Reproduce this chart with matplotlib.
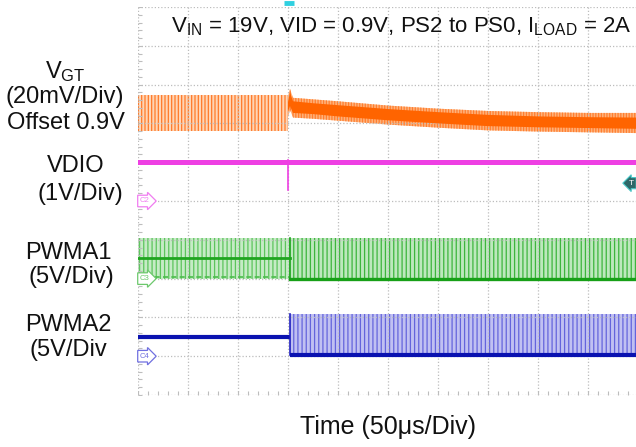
import matplotlib
matplotlib.use("Agg")
import matplotlib.pyplot as plt

plt.rcParams['font.family'] = ['Liberation Sans', 'DejaVu Sans']
plt.rcParams['mathtext.fontset'] = 'custom'
plt.rcParams['mathtext.rm'] = 'Liberation Sans'
plt.rcParams['mathtext.it'] = 'Liberation Sans:italic'
plt.rcParams['mathtext.bf'] = 'Liberation Sans:bold'
plt.rcParams['hatch.linewidth'] = 0.9

# ---------------- data (time in divisions of 50us, level in screen divisions) ----
x_divs = 10
y_divs = 10
t_step = 3.03

# V_GT (orange) envelopes
vgt_pre_t = [0.0, 3.0]
vgt_pre_hi = [7.72, 7.72]
vgt_pre_lo = [6.80, 6.80]
vgt_post_t = [3.00, 3.04, 3.10, 3.5, 4.0, 5.0, 6.0, 7.0, 8.0, 9.0, 10.0]
vgt_post_hi = [7.70, 7.89, 7.66, 7.62, 7.57, 7.46, 7.38, 7.32, 7.29, 7.27, 7.27]
vgt_post_lo = [7.15, 7.35, 7.15, 7.12, 7.07, 6.97, 6.89, 6.82, 6.79, 6.77, 6.75]
vgt_core_hi = [7.55, 7.80, 7.57, 7.52, 7.47, 7.37, 7.29, 7.22, 7.18, 7.16, 7.15]
vgt_core_lo = [7.30, 7.45, 7.27, 7.24, 7.18, 7.08, 7.00, 6.93, 6.90, 6.88, 6.86]

# VDIO (magenta)
vdio_t = [0.0, 10.0]
vdio_hi = [6.05, 6.05]
vdio_lo = [5.94, 5.94]
vdio_glitch_t = 3.0
vdio_glitch_lo = 5.28
vdio_gnd = 5.0

# PWMA1 (green)
pwma1_gnd = 3.0
pwma1_top = 4.05
pwma1_pre_mid = 3.53

# PWMA2 (blue)
pwma2_gnd = 1.0
pwma2_base = 1.03
pwma2_top = 2.09
pwma2_pre_level = 1.5

# markers
trig_time = 3.02
trig_level = 5.46

labels_left = [
    ("V$_{\\mathrm{GT}}$", 65, 72),
    ("(20mV/Div)", 65, 97),
    ("Offset 0.9V", 66, 123),
    ("VDIO", 76, 166),
    ("(1V/Div)", 80, 194),
    ("PWMA1", 68, 253),
    ("(5V/Div)", 71, 277),
    ("PWMA2", 68, 325),
    ("(5V/Div", 68, 350),
]
title_text = "V$_{\\mathrm{IN}}$ = 19V, VID = 0.9V, PS2 to PS0, I$_{\\mathrm{LOAD}}$ = 2A"
xlabel_text = "Time (50\u03bcs/Div)"

# ---------------- figure ----------------
W, H = 636, 447
fig = plt.figure(figsize=(W / 100, H / 100), dpi=100)
ax = fig.add_axes([138 / W, (H - 395) / H, (W - 138) / W, 388 / H])
ax.set_xlim(0, (W - 138) / 50.0)
ax.set_ylim(0, y_divs)
ax.axis('off')

# grid
gcol = '#BDBDBD'
for i in range(x_divs + 1):
    ax.axvline(i, color=gcol, lw=0.9, ls=(0, (1.0, 1.6)), zorder=2)
for j in range(y_divs + 1):
    ax.axhline(j, color=gcol, lw=0.9, ls=(0, (1.0, 1.6)), zorder=2)
# minor ticks on the left and bottom border
minor_y = [k / 5 for k in range(y_divs * 5 + 1)]
minor_x = [k / 5 for k in range(x_divs * 5 + 1)]
ax.plot([0.03] * len(minor_y), minor_y, ls='none', marker='_', ms=3, mew=0.8,
        color=gcol, zorder=2)
ax.plot(minor_x, [0.05] * len(minor_x), ls='none', marker='|', ms=3, mew=0.8,
        color=gcol, zorder=2)

# V_GT
ax.fill_between(vgt_pre_t, vgt_pre_lo, vgt_pre_hi, facecolor='#FFD5B5',
                edgecolor='#FF7A2A', hatch='|||||', linewidth=0, zorder=1)
ax.fill_between(vgt_post_t, vgt_post_lo, vgt_post_hi, facecolor='#FFB27A',
                edgecolor='#FF7E30', hatch='||||||', linewidth=0, zorder=1)
ax.fill_between(vgt_post_t, vgt_core_lo, vgt_core_hi, facecolor='#FF6400',
                linewidth=0, zorder=3)

# VDIO
ax.fill_between(vdio_t, vdio_lo, vdio_hi, facecolor='#EE3FE3', linewidth=0, zorder=3)
ax.plot([vdio_glitch_t, vdio_glitch_t], [vdio_hi[0], vdio_glitch_lo],
        color='#EE3FE3', lw=1.2, zorder=3)

# PWMA1
ax.fill_between([0, t_step], [pwma1_gnd] * 2, [pwma1_top] * 2, facecolor='#C6EBC6',
                edgecolor='#5CC45C', hatch='||||', linewidth=0, zorder=1)
ax.fill_between([t_step, 10], [pwma1_gnd] * 2, [pwma1_top] * 2, facecolor='#BDE8BD',
                edgecolor='#3DB53D', hatch='||||', linewidth=0, zorder=1)
ax.plot([0, t_step], [pwma1_pre_mid] * 2, color='#1FA51F', lw=2.0, zorder=3)
ax.plot([0, t_step], [pwma1_gnd + 0.03] * 2, color='#4CBC4C', lw=1.2, zorder=3,
        ls=(0, (3, 2)))
ax.plot([t_step, t_step], [pwma1_gnd, pwma1_top], color='#1FA51F', lw=1.2, zorder=3)
ax.plot([t_step, 10], [pwma1_gnd] * 2, color='#17A017', lw=2.4, zorder=3)

# PWMA2
ax.plot([0, t_step], [pwma2_pre_level] * 2, color='#0A12B0', lw=3.0, zorder=3,
        solid_capstyle='butt')
ax.fill_between([t_step, 10], [pwma2_base] * 2, [pwma2_top] * 2, facecolor='#C0C0F2',
                edgecolor='#6464DC', hatch='||||', linewidth=0, zorder=1)
ax.plot([t_step, t_step], [pwma2_base, pwma2_top], color='#2020C0', lw=1.2, zorder=3)
ax.plot([t_step, 10], [pwma2_base] * 2, color='#0A12B0', lw=3.0, zorder=3,
        solid_capstyle='butt')

# ground tags
for lvl, col, name in [(vdio_gnd, '#F07CF0', 'C2'), (pwma1_gnd, '#6CC86C', 'C3'),
                       (pwma2_gnd, '#7070E0', 'C4')]:
    ax.text(0.04, lvl, name, fontsize=5.5, color=col, va='center', ha='left', zorder=6,
            bbox=dict(boxstyle='rarrow,pad=0.3', fc='white', ec=col, lw=0.9))

# trigger markers
ax.plot([trig_time], [y_divs + 0.1], marker='_', ms=7, mew=3.5, color='#30D0E0',
        clip_on=False, zorder=6)
ax.text(9.82, trig_level, 'T', fontsize=6, color='white', va='center', ha='left',
        zorder=6, bbox=dict(boxstyle='larrow,pad=0.25', fc='#2E6868', ec='#48C8C8', lw=0.8))

# text
for txt, x, y in labels_left:
    fig.text(x / W, 1 - y / H, txt, ha='center', va='center', fontsize=17, color='#111111')
fig.text(401 / W, 1 - 27 / H, title_text, ha='center', va='center', fontsize=16,
         color='#111111')
fig.text(388 / W, 1 - 427 / H, xlabel_text, ha='center', va='center', fontsize=18,
         color='#111111')

fig.savefig('out.png', dpi=100)
